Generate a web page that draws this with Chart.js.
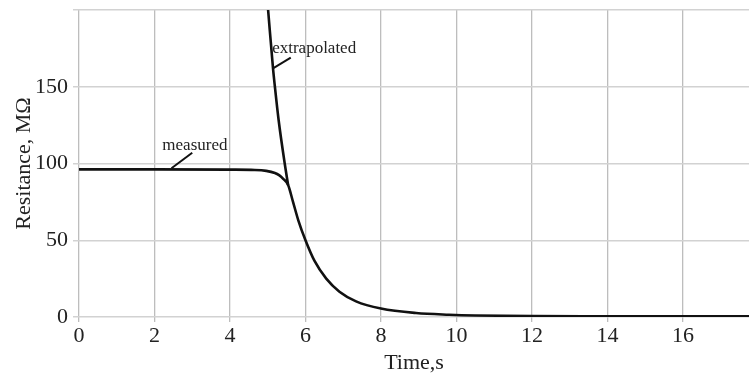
<!DOCTYPE html>
<html>
<head>
<meta charset="utf-8">
<script src="https://cdn.jsdelivr.net/npm/chart.js@4/dist/chart.umd.min.js"></script>
<style>
  html, body { margin: 0; padding: 0; background: #ffffff; }
  #wrap { width: 749px; height: 374px; position: relative; }
</style>
</head>
<body>
<div id="wrap"><canvas id="c" width="749" height="374"></canvas></div>
<script>
// ---- data ----
const measuredTime = [0, 2, 4, 4.66, 4.96, 5.19, 5.3, 5.41, 5.54, 5.67, 5.81, 6.0, 6.24, 6.55, 6.9, 7.34, 8.0, 8.93, 9.8, 10.5, 12, 14, 16, 17.75];
const measuredRes  = [96.2, 96.2, 96.0, 95.8, 95.2, 93.8, 92.4, 90.0, 86, 75, 63, 50, 36.5, 25, 16.5, 10.2, 5.5, 2.6, 1.5, 1.0, 0.6, 0.5, 0.4, 0.4];
const extrapTime   = [5.01, 5.14, 5.19, 5.29, 5.45, 5.54];
const extrapRes    = [200, 162, 150, 128, 100, 86];
const xTicks = [0, 2, 4, 6, 8, 10, 12, 14, 16];
const yTicks = [0, 50, 100, 150];
const xTitle = 'Time,s';
const yTitle = 'Resitance, MΩ';
const annotations = [
  { text: 'measured', tx: 3.07, ty: 112, from: [2.45, 96.9], to: [3.0, 107] },
  { text: 'extrapolated', tx: 6.23, ty: 175, from: [5.14, 162], to: [5.61, 169] }
];

const toPts = (xs, ys) => xs.map((x, i) => ({ x: x, y: ys[i] }));
const FONT = "'Liberation Serif', 'Times New Roman', serif";

const annotationPlugin = {
  id: 'labels',
  afterDatasetsDraw(chart) {
    const ctx = chart.ctx;
    const xs = chart.scales.x, ys = chart.scales.y;
    ctx.save();
    annotations.forEach(a => {
      ctx.strokeStyle = '#111';
      ctx.lineWidth = 2;
      ctx.beginPath();
      ctx.moveTo(xs.getPixelForValue(a.from[0]), ys.getPixelForValue(a.from[1]));
      ctx.lineTo(xs.getPixelForValue(a.to[0]), ys.getPixelForValue(a.to[1]));
      ctx.stroke();
      ctx.fillStyle = '#222';
      ctx.font = '17px ' + FONT;
      ctx.textAlign = 'center';
      ctx.textBaseline = 'middle';
      ctx.fillText(a.text, xs.getPixelForValue(a.tx), ys.getPixelForValue(a.ty));
    });
    ctx.restore();
  }
};

new Chart(document.getElementById('c'), {
  type: 'line',
  data: {
    datasets: [
      {
        label: 'measured',
        data: toPts(measuredTime, measuredRes),
        borderColor: '#111',
        borderWidth: 2.6,
        pointRadius: 0,
        cubicInterpolationMode: 'monotone',
        fill: false
      },
      {
        label: 'extrapolated',
        data: toPts(extrapTime, extrapRes),
        borderColor: '#111',
        borderWidth: 2.6,
        pointRadius: 0,
        cubicInterpolationMode: 'monotone',
        fill: false
      }
    ]
  },
  options: {
    responsive: false,
    animation: false,
    devicePixelRatio: 1,
    layout: { padding: { top: 10, right: 0, left: 0, bottom: 0 } },
    plugins: { legend: { display: false }, tooltip: { enabled: false } },
    scales: {
      x: {
        type: 'linear',
        min: 0,
        max: 17.75,
        afterBuildTicks: s => { s.ticks = xTicks.map(v => ({ value: v })); },
        afterFit: s => { s.height = 57; s.paddingLeft = 0; s.paddingRight = 0; },
        ticks: {
          color: '#222',
          font: { family: FONT, size: 22 },
          padding: 1,
          maxRotation: 0,
          autoSkip: false
        },
        grid: { color: '#bdbdbd', lineWidth: 1.3, tickLength: 5 },
        border: { display: false },
        title: {
          display: true,
          text: xTitle,
          color: '#222',
          font: { family: FONT, size: 22, lineHeight: 1 },
          padding: 0
        }
      },
      y: {
        type: 'linear',
        min: 0,
        max: 200,
        afterBuildTicks: s => { s.ticks = yTicks.concat([200]).map(v => ({ value: v })); },
        afterFit: s => { s.width = 79; s.paddingTop = 0; s.paddingBottom = 0; },
        ticks: {
          color: '#222',
          font: { family: FONT, size: 22 },
          padding: 5,
          callback: v => (yTicks.includes(v) ? String(v) : '')
        },
        grid: { color: '#d2d2d2', lineWidth: 1.5, tickLength: 6 },
        border: { display: false },
        title: {
          display: true,
          text: yTitle,
          color: '#222',
          font: { family: FONT, size: 22, lineHeight: 1.2 },
          padding: { top: 11, bottom: 0 }
        }
      }
    }
  },
  plugins: [annotationPlugin]
});
</script>
</body>
</html>
